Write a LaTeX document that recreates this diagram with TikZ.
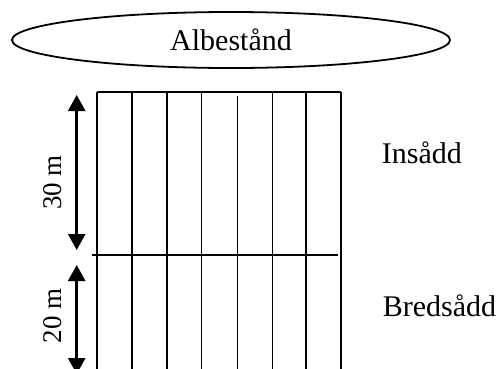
\documentclass[tikz,border=0pt]{standalone}
\usepackage{fontspec}
\setmainfont{Liberation Serif}
\usetikzlibrary{shapes.geometric,arrows.meta}
\tikzset{
  gridline/.style={line width=1.6pt},
  thinline/.style={line width=1.2pt},
  dimarrow/.style={line width=2.8pt,{Triangle[length=16pt,width=17pt]}-{Triangle[length=16pt,width=17pt]}},
  lbl/.style={inner sep=0pt,font=\fontsize{30}{36}\selectfont},
  dimlbl/.style={inner sep=0pt,font=\fontsize{27}{32}\selectfont,rotate=90,anchor=base},
}
\begin{document}
\begin{tikzpicture}[x=1pt,y=-1pt]
\useasboundingbox (0,0) rectangle (501,368);
\begin{scope}
\clip (0,0) rectangle (501,368);
% ellipse with title
\node[draw,ellipse,line width=1.8pt,minimum width=438pt,minimum height=56pt,inner sep=0pt,font=\fontsize{30}{36}\selectfont] (alb) at (231,40) {Albestånd};
% grid
\coordinate (tl) at (96.7,92);
\coordinate (tr) at (340.7,92);
\draw[gridline] (tl) -- (tr);
\coordinate (ml) at (91.7,255);
\coordinate (mr) at (338,255);
\draw[gridline] (ml) -- (mr);
\foreach \x in {96.7,132,166.7,201.3,272.3,306,340.7} {
  \draw[gridline] (\x,92) -- (\x,380);
}
\draw[thinline] (237.3,96) -- (237.3,380);
% dimension arrows
\coordinate (a1t) at (76.7,95);
\coordinate (a1b) at (76.7,250);
\draw[dimarrow] (a1t) -- (a1b);
\coordinate (a2t) at (76.7,265);
\coordinate (a2b) at (76.7,374);
\draw[dimarrow] (a2t) -- (a2b);
% labels
\node[dimlbl] (d30) at (61.5,182.5) {30 m};
\node[dimlbl] (d20) at (61.5,316) {20 m};
\node[lbl,anchor=base west] (ins) at (381.7,163) {Insådd};
\node[lbl,anchor=base west] (bred) at (382.7,316) {Bredsådd};
\end{scope}
\end{tikzpicture}
\end{document}
